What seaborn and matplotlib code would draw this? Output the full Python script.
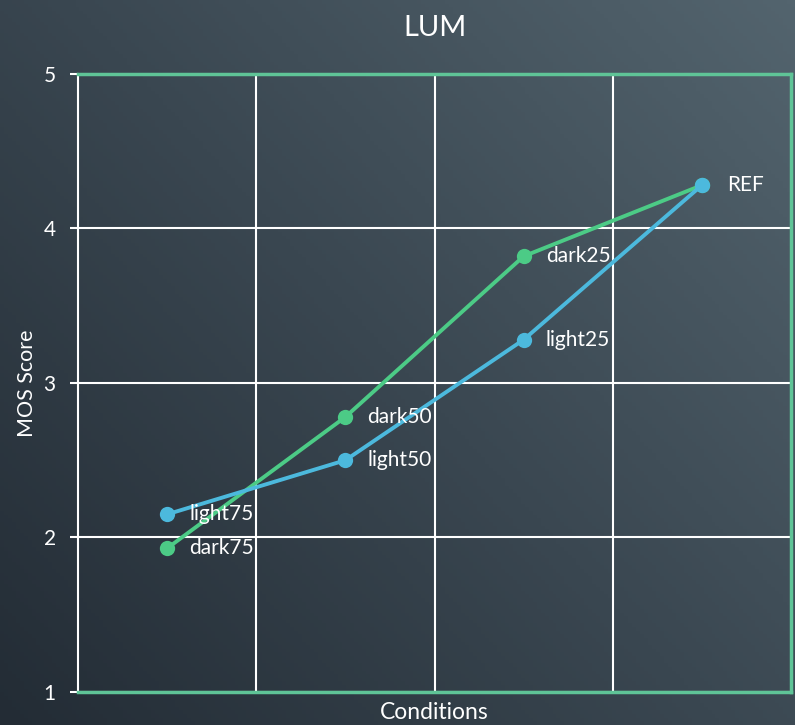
import numpy as np
import pandas as pd
import matplotlib
matplotlib.use("Agg")
import matplotlib.pyplot as plt
import seaborn as sns
from matplotlib.colors import LinearSegmentedColormap

# MOS scores per luminance condition
dark_labels = ["dark75", "dark50", "dark25", "REF"]
dark_scores = [1.93, 2.78, 3.82, 4.28]
light_labels = ["light75", "light50", "light25", "REF"]
light_scores = [2.15, 2.50, 3.28, 4.28]
y_ticks = [1, 2, 3, 4, 5]

GREEN = "#4ccb86"
BLUE = "#4cb9dd"
FRAME = "#5fc497"
TEXT = "#ffffff"

sns.set_theme(style="white")
plt.rcParams["font.family"] = ["Lato", "DejaVu Sans"]

fig = plt.figure(figsize=(7.95, 7.25), dpi=100)

# slate gradient backdrop
bg = fig.add_axes([0, 0, 1, 1], zorder=-10)
yy, xx = np.mgrid[0:1:200j, 0:1:200j]
grad = 0.55 * xx + 0.45 * (1 - yy)
cmap = LinearSegmentedColormap.from_list("slate", ["#232c35", "#3a4751", "#53646e"])
bg.imshow(grad, cmap=cmap, aspect="auto", extent=[0, 1, 0, 1], origin="upper")
bg.set_axis_off()

ax = fig.add_axes([0.0981, 0.0455, 0.8969, 0.8525])
ax.set_facecolor("none")

n = len(dark_scores)
pos = np.arange(n) + 0.5
df = pd.concat([
    pd.DataFrame({"x": pos, "score": dark_scores, "label": dark_labels, "series": "dark"}),
    pd.DataFrame({"x": pos, "score": light_scores, "label": light_labels, "series": "light"}),
])

sns.lineplot(data=df, x="x", y="score", hue="series", palette={"dark": GREEN, "light": BLUE},
             marker="o", markersize=11, markeredgewidth=0, linewidth=2.8,
             legend=False, ax=ax, sort=False)

for x, y, t in zip(pos, dark_scores, dark_labels):
    if t == "REF":
        continue
    ax.annotate(t, (x, y), xytext=(16, 0), textcoords="offset points",
                va="center", ha="left", color=TEXT, fontsize=15)
for x, y, t in zip(pos, light_scores, light_labels):
    ax.annotate(t, (x, y), xytext=(16 if t != "REF" else 18, 0), textcoords="offset points",
                va="center", ha="left", color=TEXT, fontsize=15)

ax.set_xlim(0, n)
ax.set_ylim(1, 5)
ax.set_xticks(np.arange(1, n))
ax.set_xticklabels([])
ax.set_yticks(y_ticks)
ax.set_yticklabels([str(v) for v in y_ticks])
ax.grid(True, color="white", linewidth=1.5)
ax.tick_params(axis="x", length=0)
ax.tick_params(axis="y", length=6, width=1.5, color="white", labelcolor=TEXT,
               labelsize=15, pad=10, left=True)

for side in ["top", "right", "bottom"]:
    ax.spines[side].set_color(FRAME)
    ax.spines[side].set_linewidth(2.5)
ax.spines["left"].set_color("white")
ax.spines["left"].set_linewidth(1.5)

ax.set_xlabel("Conditions", color=TEXT, fontsize=16.5, labelpad=4)
ax.set_ylabel("MOS Score", color=TEXT, fontsize=15.5, labelpad=5)
fig.text(0.547, 0.962, "LUM", ha="center", va="center", color=TEXT, fontsize=21)

fig.savefig("out.png", dpi=100)
